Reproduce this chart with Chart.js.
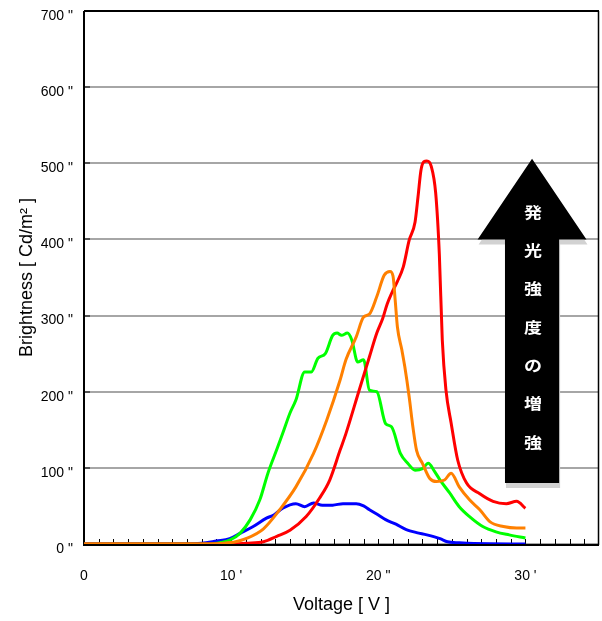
<!DOCTYPE html>
<html>
<head>
<meta charset="utf-8">
<title>Brightness - Voltage</title>
<script src="https://cdn.jsdelivr.net/npm/chart.js@4.4.1/dist/chart.umd.min.js"></script>
<style>
  html, body { margin: 0; padding: 0; background: #fff; }
  canvas { display: block; }
</style>
</head>
<body>
<canvas id="brightnessChart" width="602" height="621"></canvas>
<script>
// brightness [Cd/m2] against drive voltage [V], one pair of arrays per sample
const blueVoltage = [0, 7, 8, 9, 9.9, 10.6, 11.5, 12.4, 12.9, 13.5, 14.4, 15.0, 15.6, 16.2, 16.9, 17.6, 18.5, 19.0, 19.4, 20.0, 20.5, 21.2, 21.9, 22.6, 23.3, 24.2, 24.7, 25.5, 26.5, 30];
const blueBrightness = [0, 0, 1, 4, 7, 14, 23, 34, 38, 47, 53, 49, 54, 51, 51, 53, 53, 50, 45, 38, 32, 26, 19, 15, 12, 7, 3, 1.5, 0.5, 0];

const greenVoltage = [0, 8.5, 9.3, 9.9, 10.6, 11.3, 11.95, 12.5, 13.1, 13.5, 14.0, 14.4, 15.0, 15.45, 15.9, 16.4, 16.9, 17.2, 17.5, 17.9, 18.2, 18.6, 19.0, 19.4, 19.9, 20.5, 20.9, 21.5, 22.0, 22.5, 23.0, 23.4, 23.8, 24.2, 24.85, 25.5, 26.2, 27.1, 28.0, 28.9, 30];
const greenBrightness = [0, 0, 2, 5, 14, 32, 58, 93, 124, 145, 172, 189, 226, 226, 244, 250, 274, 277, 274, 277, 268, 239, 242, 202, 200, 158, 154, 119, 106, 97, 99, 106, 96, 84, 67, 49, 36, 23, 16, 12, 8];

const orangeVoltage = [0, 8.5, 9.5, 10.3, 11.0, 12.2, 13.3, 14.4, 15.6, 16.5, 17.4, 17.8, 18.5, 19.0, 19.4, 19.9, 20.4, 20.8, 21.0, 21.15, 21.3, 21.6, 21.8, 22.1, 22.35, 22.6, 23.0, 23.5, 23.95, 24.5, 24.95, 25.5, 26.2, 26.9, 27.6, 28.5, 29.4, 30];
const orangeBrightness = [0, 0, 1, 3, 7, 20, 45, 75, 119, 163, 215, 242, 272, 298, 302, 325, 353, 358, 352, 320, 285, 255, 233, 193, 154, 123, 106, 86, 82, 84, 93, 75, 58, 45, 29, 23, 21, 21];

const redVoltage = [0, 10.3, 11, 12.2, 13.1, 14.0, 15.1, 16.0, 16.7, 17.4, 17.8, 18.7, 19.4, 19.9, 20.3, 20.6, 20.9, 21.3, 21.7, 22.1, 22.5, 22.7, 22.9, 23.1, 23.3, 23.6, 23.9, 24.15, 24.35, 24.6, 24.95, 25.4, 26.0, 26.9, 27.8, 28.7, 29.4, 30];
const redBrightness = [0, 0, 1, 3, 10, 18, 36, 60, 84, 123, 145, 202, 246, 277, 296, 315, 329, 345, 364, 399, 423, 456, 491, 502, 503, 496, 461, 380, 268, 202, 159, 110, 80, 66, 56, 53, 56, 47];

// axis labels
const xLabelValues = [0, 10, 20, 30];
const xLabelText = ['0', "10 '", '20 "', "30 '"];
const arrowText = ['発', '光', '強', '度', 'の', '増', '強'];

function toPoints(xs, ys) {
    return xs.map((v, i) => ({ x: v, y: ys[i] }));
}

function series(label, color, xs, ys, order) {
    return {
        label: label,
        data: toPoints(xs, ys),
        borderColor: color,
        borderWidth: 3,
        pointRadius: 0,
        fill: false,
        cubicInterpolationMode: 'monotone',
        order: order
    };
}

// frame and the short inward tick marks
const frameTicks = {
    id: 'frameTicks',
    beforeDatasetsDraw(chart) {
        const { ctx, chartArea: a, scales: { x, y } } = chart;
        ctx.save();
        ctx.strokeStyle = '#000';
        ctx.lineWidth = 1;
        ctx.beginPath();
        for (let v = 1; v < 35; v++) {
            const px = Math.round(x.getPixelForValue(v)) + 0.5;
            ctx.moveTo(px, a.bottom);
            ctx.lineTo(px, a.bottom - 5);
        }
        for (let v = 100; v < 700; v += 100) {
            const py = Math.round(y.getPixelForValue(v));
            ctx.moveTo(a.left, py);
            ctx.lineTo(a.left + 6, py);
        }
        ctx.stroke();
        ctx.lineWidth = 2;
        ctx.beginPath();
        ctx.moveTo(a.left, a.top);
        ctx.lineTo(a.left, a.bottom + 1);
        ctx.lineTo(a.right, a.bottom + 1);
        ctx.moveTo(a.left, a.top);
        ctx.lineTo(a.right, a.top);
        ctx.stroke();
        ctx.lineWidth = 1.5;
        ctx.beginPath();
        ctx.moveTo(a.right - 0.5, a.top);
        ctx.lineTo(a.right - 0.5, a.bottom + 1);
        ctx.stroke();
        ctx.restore();
    }
};

// big black arrow with the vertical caption
const arrowNote = {
    id: 'arrowNote',
    afterDatasetsDraw(chart, args, opts) {
        const { ctx, scales: { x, y } } = chart;
        const cx = x.getPixelForValue(opts.center);
        const headL = x.getPixelForValue(opts.center - opts.headHalf);
        const headR = x.getPixelForValue(opts.center + opts.headHalf);
        const shaftL = x.getPixelForValue(opts.center - opts.shaftHalf);
        const shaftR = x.getPixelForValue(opts.center + opts.shaftHalf);
        const tipY = y.getPixelForValue(opts.tip);
        const baseY = y.getPixelForValue(opts.headBase);
        const endY = y.getPixelForValue(opts.tail);

        function path(dx, dy) {
            ctx.beginPath();
            ctx.moveTo(cx + dx, tipY + dy);
            ctx.lineTo(headR + dx, baseY + dy);
            ctx.lineTo(shaftR + dx, baseY + dy);
            ctx.lineTo(shaftR + dx, endY + dy);
            ctx.lineTo(shaftL + dx, endY + dy);
            ctx.lineTo(shaftL + dx, baseY + dy);
            ctx.lineTo(headL + dx, baseY + dy);
            ctx.closePath();
        }

        ctx.save();
        ctx.fillStyle = '#d2d2d2';
        path(1, 5);
        ctx.fill();
        ctx.fillStyle = '#000';
        path(0, 0);
        ctx.fill();

        ctx.fillStyle = '#fff';
        ctx.font = 'bold 15px "Noto Sans CJK JP"';
        ctx.textAlign = 'center';
        ctx.textBaseline = 'middle';
        const step = (opts.textTop - opts.textBottom) / (arrowText.length - 1);
        arrowText.forEach((ch, i) => {
            const py = y.getPixelForValue(opts.textTop - i * step);
            ctx.save();
            ctx.translate(cx + 1, py);
            ctx.scale(1.2, 1);
            ctx.fillText(ch, 0, 0);
            ctx.restore();
        });
        ctx.restore();
    }
};

const ctx = document.getElementById('brightnessChart').getContext('2d');
new Chart(ctx, {
    type: 'line',
    data: {
        datasets: [
            series('orange', '#ff8000', orangeVoltage, orangeBrightness, 0),
            series('red', '#ff0000', redVoltage, redBrightness, 1),
            series('green', '#00ff00', greenVoltage, greenBrightness, 2),
            series('blue', '#0000ff', blueVoltage, blueBrightness, 3)
        ]
    },
    options: {
        responsive: false,
        animation: false,
        layout: { padding: { top: 11, right: 3, left: 0, bottom: 0 } },
        plugins: {
            legend: { display: false },
            tooltip: { enabled: false },
            arrowNote: {
                center: 30.45,
                headHalf: 3.7,
                shaftHalf: 1.84,
                tip: 506,
                headBase: 400,
                tail: 80,
                textTop: 436,
                textBottom: 134
            }
        },
        scales: {
            x: {
                type: 'linear',
                min: 0,
                max: 35,
                grid: { display: false, drawTicks: false },
                border: { display: false },
                ticks: {
                    stepSize: 1,
                    autoSkip: false,
                    maxRotation: 0,
                    padding: 24,
                    color: '#000',
                    font: { family: '"Liberation Sans", Arial', size: 14 },
                    callback: function(value) {
                        const i = xLabelValues.indexOf(value);
                        return i >= 0 ? xLabelText[i] : '';
                    }
                },
                title: {
                    display: true,
                    text: 'Voltage [ V ]',
                    color: '#000',
                    font: { family: '"Liberation Sans", Arial', size: 18 },
                    padding: { top: 0, bottom: 5 }
                },
                afterFit: function(scale) {
                    scale.height = 77;
                    scale.paddingLeft = 0;
                    scale.paddingRight = 0;
                }
            },
            y: {
                min: 0,
                max: 700,
                grid: {
                    color: '#a6a6a6',
                    lineWidth: 2,
                    drawTicks: false
                },
                border: { display: false },
                ticks: {
                    stepSize: 100,
                    padding: 11,
                    labelOffset: 5,
                    color: '#000',
                    font: { family: '"Liberation Sans", Arial', size: 14 },
                    callback: function(value) { return value + ' "'; }
                },
                title: {
                    display: true,
                    text: 'Brightness [ Cd/m² ]',
                    color: '#000',
                    font: { family: '"Liberation Sans", Arial', size: 18 },
                    padding: { top: 16, bottom: 0 }
                },
                afterFit: function(scale) {
                    scale.width = 84;
                    scale.paddingTop = 0;
                    scale.paddingBottom = 0;
                }
            }
        }
    },
    plugins: [frameTicks, arrowNote]
});
</script>
</body>
</html>
